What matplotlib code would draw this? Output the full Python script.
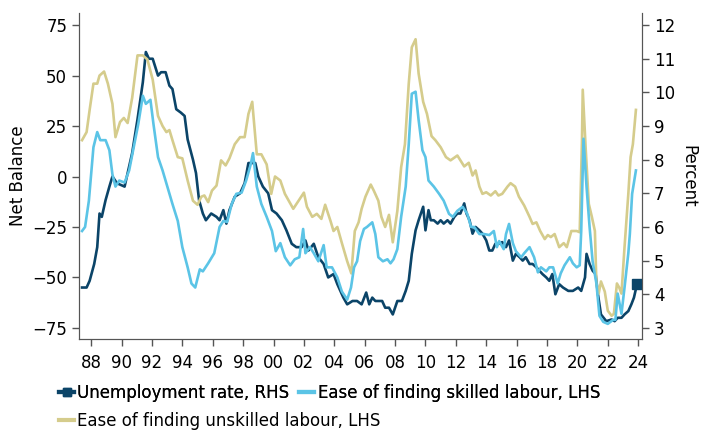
import matplotlib
matplotlib.use("Agg")
import matplotlib.pyplot as plt
from matplotlib.lines import Line2D

# unemployment rate (percent, RHS)
unemp_x = [1987.4, 1987.7, 1987.9, 1988.2, 1988.4, 1988.55, 1988.7, 1988.95, 1989.2, 1989.4,
           1989.7, 1990.2, 1990.4, 1990.7, 1991.05, 1991.4, 1991.6, 1991.8, 1992.05, 1992.4,
           1992.6, 1992.9, 1993.15, 1993.35, 1993.6, 1993.9, 1994.15, 1994.35, 1994.7, 1994.9,
           1995.1, 1995.35, 1995.55, 1995.9, 1996.25, 1996.45, 1996.7, 1996.9, 1997.1, 1997.45,
           1997.8, 1998.1, 1998.35, 1998.55, 1998.8, 1999.0, 1999.3, 1999.65, 1999.9, 2000.2,
           2000.55, 2000.85, 2001.2, 2001.5, 2001.85, 2002.1, 2002.3, 2002.65, 2002.95, 2003.3,
           2003.6, 2003.95, 2004.2, 2004.4, 2004.6, 2004.85, 2005.2, 2005.5, 2005.8, 2006.1,
           2006.3, 2006.5, 2006.7, 2006.9, 2007.15, 2007.35, 2007.6, 2007.85, 2008.15, 2008.45,
           2008.7, 2008.9, 2009.1, 2009.35, 2009.55, 2009.85, 2010.0, 2010.2, 2010.35, 2010.55,
           2010.8, 2011.0, 2011.2, 2011.45, 2011.65, 2011.9, 2012.1, 2012.3, 2012.55, 2012.7,
           2012.9, 2013.1, 2013.3, 2013.55, 2013.75, 2014.0, 2014.2, 2014.4, 2014.6, 2014.85,
           2015.05, 2015.3, 2015.5, 2015.75, 2015.95, 2016.2, 2016.4, 2016.6, 2016.85, 2017.05,
           2017.3, 2017.5, 2017.7, 2017.95, 2018.15, 2018.35, 2018.55, 2018.8, 2019.05, 2019.4,
           2019.7, 2020.05, 2020.25, 2020.5, 2020.6, 2020.8, 2021.0, 2021.2, 2021.35, 2021.55,
           2021.9, 2022.25, 2022.45, 2022.65, 2022.9, 2023.1, 2023.35, 2023.55, 2023.72, 2023.92]
unemp = [4.2, 4.2, 4.4, 4.9, 5.4, 6.4, 6.3, 6.8, 7.2, 7.5,
         7.3, 7.2, 7.6, 8.2, 9.2, 10.3, 11.2, 11.0, 11.0, 10.5,
         10.6, 10.6, 10.2, 10.1, 9.5, 9.4, 9.3, 8.6, 8.0, 7.6,
         6.8, 6.4, 6.2, 6.4, 6.3, 6.2, 6.5, 6.1, 6.5, 6.9,
         7.0, 7.3, 7.9, 7.9, 7.9, 7.5, 7.2, 7.0, 6.5, 6.4,
         6.2, 5.9, 5.5, 5.4, 5.4, 5.6, 5.3, 5.5, 5.1, 4.9,
         4.5, 4.6, 4.3, 4.1, 3.9, 3.7, 3.8, 3.8, 3.7, 4.05,
         3.7, 3.9, 3.8, 3.8, 3.8, 3.6, 3.6, 3.4, 3.8, 3.8,
         4.1, 4.4, 5.2, 5.9, 6.2, 6.6, 5.9, 6.5, 6.2, 6.2,
         6.1, 6.2, 6.1, 6.2, 6.1, 6.3, 6.4, 6.4, 6.7, 6.4,
         6.2, 5.8, 6.0, 5.9, 5.8, 5.6, 5.3, 5.3, 5.5, 5.5,
         5.55, 5.4, 5.6, 5.0, 5.2, 5.1, 5.0, 5.1, 4.9, 4.9,
         4.8, 4.7, 4.6, 4.5, 4.4, 4.6, 4.0, 4.3, 4.2, 4.1,
         4.1, 4.2, 4.1, 4.5, 5.2, 4.9, 4.7, 4.6, 4.0, 3.4,
         3.2, 3.25, 3.2, 3.3, 3.3, 3.4, 3.5, 3.7, 3.9, 4.3]

# ease of finding skilled labour (net balance, LHS)
skilled_x = [1987.4, 1987.6, 1987.85, 1988.15, 1988.4, 1988.6, 1988.95, 1989.2, 1989.4, 1989.6,
             1989.85, 1990.2, 1990.5, 1990.8, 1991.1, 1991.4, 1991.6, 1991.9, 1992.1, 1992.4,
             1992.7, 1993.05, 1993.35, 1993.7, 1994.0, 1994.35, 1994.6, 1994.85, 1995.15, 1995.35,
             1995.7, 1996.1, 1996.45, 1996.7, 1996.95, 1997.25, 1997.55, 1997.9, 1998.2, 1998.5,
             1998.65, 1998.9, 1999.2, 1999.55, 1999.9, 2000.15, 2000.45, 2000.75, 2001.1, 2001.4,
             2001.7, 2001.95, 2002.1, 2002.4, 2002.65, 2002.95, 2003.3, 2003.5, 2003.85, 2004.2,
             2004.5, 2004.85, 2005.1, 2005.3, 2005.5, 2005.7, 2005.95, 2006.15, 2006.5, 2006.7,
             2006.9, 2007.2, 2007.5, 2007.7, 2007.9, 2008.15, 2008.4, 2008.7, 2008.9, 2009.1,
             2009.35, 2009.55, 2009.8, 2010.0, 2010.2, 2010.55, 2010.9, 2011.2, 2011.55, 2011.8,
             2012.1, 2012.45, 2012.75, 2013.0, 2013.2, 2013.55, 2013.85, 2014.2, 2014.5, 2014.7,
             2014.85, 2015.15, 2015.3, 2015.5, 2015.75, 2015.95, 2016.3, 2016.5, 2016.85, 2017.15,
             2017.4, 2017.6, 2017.95, 2018.15, 2018.4, 2018.7, 2018.9, 2019.15, 2019.5, 2019.7,
             2019.95, 2020.15, 2020.25, 2020.4, 2020.6, 2020.8, 2021.0, 2021.25, 2021.45, 2021.7,
             2022.0, 2022.35, 2022.5, 2022.65, 2022.9, 2023.1, 2023.35, 2023.45, 2023.6, 2023.85]
skilled = [-27, -25, -12, 14.5, 22, 18, 18, 13, 1, -5,
           -2, -3, 3, 14.5, 26, 40, 36, 38, 26, 9.6,
           3, -6, -13.6, -22, -35, -45, -53, -55, -46, -47,
           -43, -38, -25, -22, -22.5, -13.6, -8.6, -8, -2, 6,
           11.6, -5, -13.6, -20, -27, -37, -33, -40, -44, -41,
           -40, -26, -38, -35, -38, -42, -34, -45, -45, -50,
           -57, -61, -55, -45, -42, -32, -26, -25, -22.7, -28.5,
           -40, -42, -41, -43, -41, -36, -20, -5, 16, 41,
           42, 28, 13, 9.6, -2, -5, -8.6, -12, -18.5, -20,
           -17, -15, -18.5, -25, -25, -28.5, -28.5, -29, -27, -35,
           -32, -36, -28.5, -23.5, -33, -37, -40, -38, -35, -40,
           -47.5, -45, -47, -45, -45, -53, -48, -44, -40, -43,
           -45, -44, -27, 18.7, -5, -25, -42, -53, -69, -72,
           -73, -71, -71, -58, -68, -55, -38, -28.5, -8.6, 3]

# ease of finding unskilled labour (net balance, LHS)
unskilled_x = [1987.4, 1987.7, 1987.9, 1988.15, 1988.4, 1988.55, 1988.85, 1989.1, 1989.4, 1989.6,
               1989.9, 1990.15, 1990.4, 1990.7, 1991.05, 1991.4, 1991.7, 1992.05, 1992.4, 1992.7,
               1992.95, 1993.15, 1993.35, 1993.7, 1994.0, 1994.35, 1994.7, 1995.0, 1995.25, 1995.45,
               1995.7, 1995.95, 1996.25, 1996.55, 1996.85, 1997.1, 1997.45, 1997.8, 1998.1, 1998.35,
               1998.6, 1998.9, 1999.2, 1999.55, 1999.85, 2000.1, 2000.45, 2000.75, 2001.0, 2001.3,
               2001.65, 2002.0, 2002.2, 2002.55, 2002.85, 2003.15, 2003.4, 2003.75, 2003.95, 2004.2,
               2004.5, 2004.85, 2005.12, 2005.35, 2005.6, 2005.8, 2006.05, 2006.4, 2006.6, 2006.9,
               2007.1, 2007.35, 2007.6, 2007.85, 2008.15, 2008.4, 2008.65, 2008.9, 2009.1, 2009.35,
               2009.55, 2009.85, 2010.1, 2010.4, 2010.65, 2011.0, 2011.35, 2011.65, 2012.1, 2012.3,
               2012.55, 2012.85, 2013.1, 2013.3, 2013.55, 2013.75, 2014.0, 2014.3, 2014.6, 2014.8,
               2015.05, 2015.4, 2015.6, 2015.9, 2016.15, 2016.5, 2016.85, 2017.05, 2017.3, 2017.55,
               2017.85, 2018.05, 2018.25, 2018.5, 2018.8, 2019.1, 2019.3, 2019.6, 2019.95, 2020.15,
               2020.3, 2020.35, 2020.55, 2020.75, 2020.95, 2021.15, 2021.25, 2021.4, 2021.55, 2021.8,
               2022.0, 2022.25, 2022.4, 2022.6, 2022.75, 2022.9, 2023.1, 2023.35, 2023.5, 2023.65,
               2023.85]
unskilled = [18, 22, 33, 46, 46, 50, 52, 46, 36, 19.5,
             27, 29, 26.5, 39, 60, 60, 58, 48, 30, 25,
             22, 23, 18, 9.6, 9, -2, -12, -14, -10, -9.4,
             -12.7, -7, -4.5, 8, 5.5, 9, 16, 19.5, 19.5, 31,
             37, 11, 11, 6, -8.6, 0, -2, -8.6, -12, -16,
             -12, -8, -15, -20, -18.5, -21, -14, -22, -27, -25,
             -33, -42, -48, -27, -22.7, -16, -10, -4, -7, -12,
             -20, -25, -19, -32.6, -17, 4.6, 16, 46, 64, 68,
             51, 37, 31, 20, 18, 14.5, 9.6, 8, 10.4, 8,
             5, 6.8, 0.5, 3, -5, -8.6, -7.8, -9.4, -7.3, -9.4,
             -8.6, -5, -3.3, -5, -10, -14.4, -20, -23.5, -22.7, -27,
             -31, -29, -30, -28.5, -35, -33, -35, -27, -27, -27.6,
             18, 43, 13, -13.6, -20, -27, -53, -58, -52, -57,
             -66.5, -69, -68, -53, -55, -58, -35, -8.6, 9.6, 16,
             33]

years = list(range(1988, 2025, 2))
year_labels = ["%02d" % (y % 100) for y in years]

navy = "#0b4468"
sky = "#5bc4e6"
khaki = "#d5cc8c"
spine_col = "#555555"

plt.rcParams["font.family"] = "DejaVu Sans"
plt.rcParams["font.size"] = 12

fig, ax = plt.subplots(figsize=(7.02, 4.30), dpi=100)
fig.subplots_adjust(left=79 / 702, right=642 / 702, top=1 - 13 / 430, bottom=1 - 339 / 430)
ax2 = ax.twinx()

ax.plot(skilled_x, skilled, color=sky, lw=1.9, zorder=3)
ax.plot(unskilled_x, unskilled, color=khaki, lw=1.9, zorder=2)
ax2.plot(unemp_x, unemp, color=navy, lw=1.9, marker="s", markersize=6.5,
         markevery=[len(unemp) - 1], zorder=4)

ax.set_zorder(ax2.get_zorder() + 1)
ax.patch.set_visible(False)

ax.set_xlim(1987.2, 2024.25)
ax.set_ylim(-80.5, 81)
ax2.set_ylim(2.67, 12.36)
ax.set_yticks([-75, -50, -25, 0, 25, 50, 75])
ax2.set_yticks(range(3, 13))
ax.set_xticks(years)
ax.set_xticklabels(year_labels)

for a in (ax, ax2):
    a.spines["top"].set_visible(False)
    for s in ("left", "right", "bottom"):
        a.spines[s].set_color(spine_col)
    a.tick_params(colors=spine_col, labelcolor="black", length=5, width=1)
ax.tick_params(axis="x", pad=6)

ax.set_ylabel("Net Balance", fontsize=12)
ax2.set_ylabel("Percent", fontsize=12, rotation=270, labelpad=16)

h1 = Line2D([], [], color=navy, lw=3, marker="s", markersize=6)
h2 = Line2D([], [], color=sky, lw=3)
h3 = Line2D([], [], color=khaki, lw=3)
leg1 = fig.legend([h1, h2], ["Unemployment rate, RHS", "Ease of finding skilled labour, LHS"],
                  loc="center left", bbox_to_anchor=(59 / 702, 1 - 393 / 430), ncol=2,
                  frameon=False, handlelength=0.9, handletextpad=0.2, columnspacing=0.6,
                  borderpad=0, borderaxespad=0, fontsize=12)
leg2 = fig.legend([h3], ["Ease of finding unskilled labour, LHS"],
                  loc="center left", bbox_to_anchor=(59 / 702, 1 - 421 / 430),
                  frameon=False, handlelength=0.9, handletextpad=0.2,
                  borderpad=0, borderaxespad=0, fontsize=12)
fig.add_artist(leg1)

fig.savefig("out.png", dpi=100)
